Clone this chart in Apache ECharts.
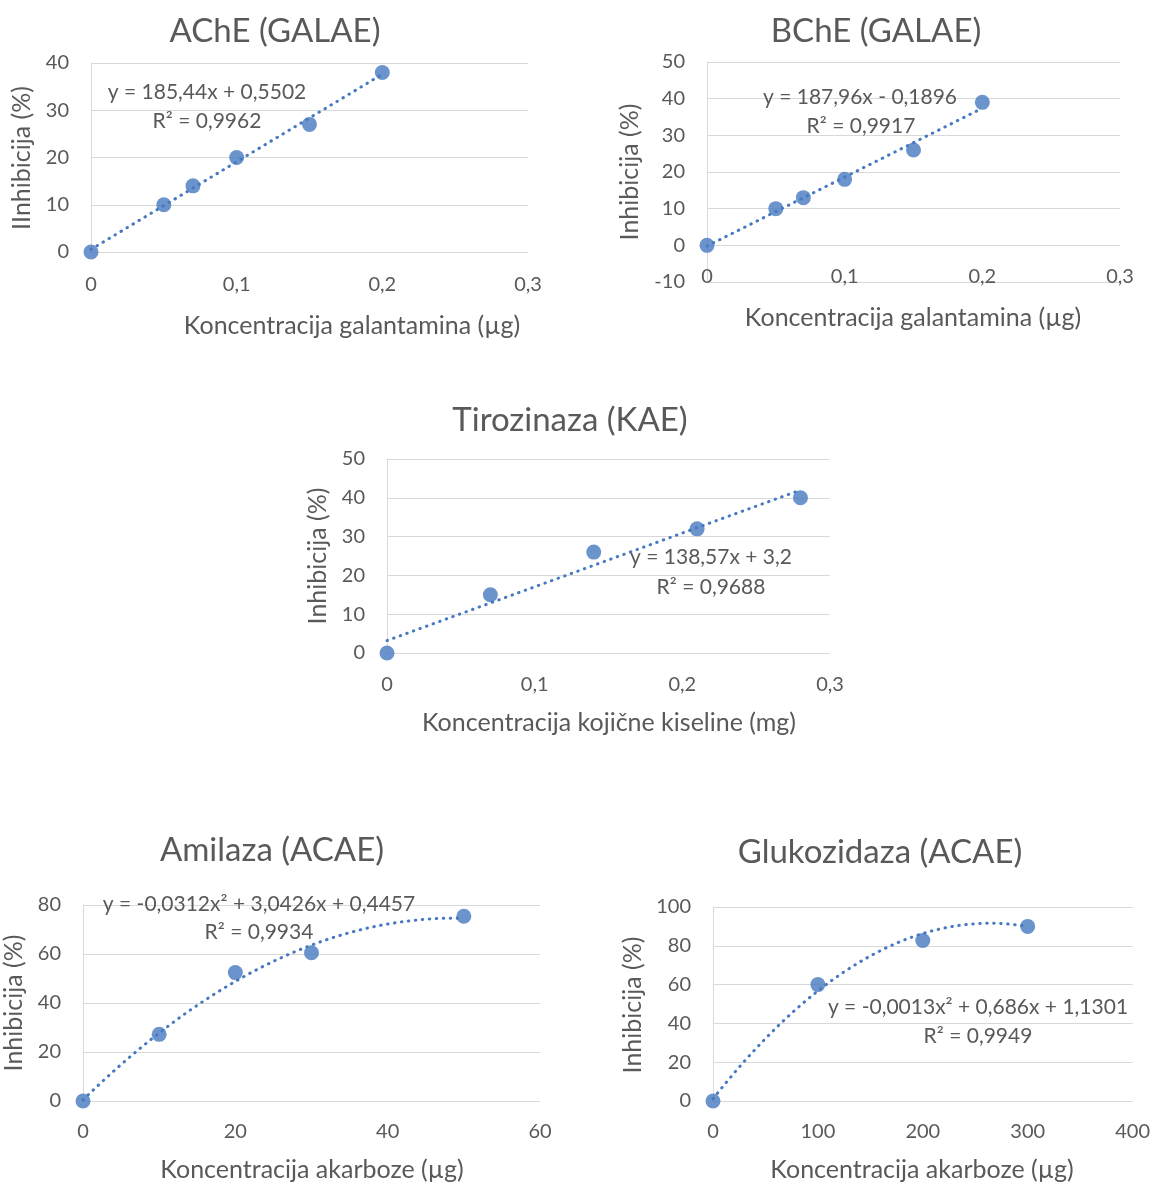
<!DOCTYPE html>
<html><head><meta charset="utf-8">
<script src="https://cdn.jsdelivr.net/npm/echarts@6/dist/echarts.min.js"></script>
<style>html,body{margin:0;padding:0;background:#fff}#c{width:1153px;height:1185px}</style>
</head><body><div id="c"></div>
<script>
// ---- data ----
const achX = [0, 0.05, 0.07, 0.1, 0.15, 0.2];
const achY = [0, 10, 14, 20, 27, 38];
const bchX = [0, 0.05, 0.07, 0.1, 0.15, 0.2];
const bchY = [0, 10, 13, 18, 26, 39];
const tirX = [0, 0.07, 0.14, 0.21, 0.28];
const tirY = [0, 15, 26, 32, 40];
const amiX = [0, 10, 20, 30, 50];
const amiY = [0, 27.2, 52.4, 60.5, 75.4];
const gluX = [0, 100, 200, 300];
const gluY = [0, 60, 82.7, 90];
// trendline coefficients [a, b, c] for a*x^2 + b*x + c (from the shown equations)
const achTrend = [0, 185.44, 0.5502];
const bchTrend = [0, 187.96, -0.1896];
const tirTrend = [0, 138.57, 3.2];
const amiTrend = [-0.0312, 3.0426, 0.4457];
const gluTrend = [-0.0013, 0.686, 1.1301];
// axis ranges [min, max, interval]
const achXAxis = [0, 0.3, 0.1], achYAxis = [0, 40, 10];
const bchXAxis = [0, 0.3, 0.1], bchYAxis = [-10, 50, 10];
const tirXAxis = [0, 0.3, 0.1], tirYAxis = [0, 50, 10];
const amiXAxis = [0, 60, 20], amiYAxis = [0, 80, 20];
const gluXAxis = [0, 400, 100], gluYAxis = [0, 100, 20];
// texts
const titles = ['AChE (GALAE)', 'BChE (GALAE)', 'Tirozinaza (KAE)', 'Amilaza (ACAE)', 'Glukozidaza (ACAE)'];
const xTitles = ['Koncentracija galantamina (µg)', 'Koncentracija galantamina (µg)', 'Koncentracija kojične kiseline (mg)', 'Koncentracija akarboze (µg)', 'Koncentracija akarboze (µg)'];
const yTitles = ['IInhibicija (%)', 'Inhibicija (%)', 'Inhibicija (%)', 'Inhibicija (%)', 'Inhibicija (%)'];
const eqs = ['y = 185,44x + 0,5502', 'y = 187,96x - 0,1896', 'y = 138,57x + 3,2', 'y = -0,0312x² + 3,0426x + 0,4457', 'y = -0,0013x² + 0,686x + 1,1301'];
const r2s = ['R² = 0,9962', 'R² = 0,9917', 'R² = 0,9688', 'R² = 0,9934', 'R² = 0,9949'];

// ---- layout ----
const FONT = 'Lato';
const TXT = '#595959';
const GRID = '#D9D9D9';
const BLUE = '#4679C1';
const grids = [
  {left: 91, top: 63, width: 437, height: 189},
  {left: 707, top: 62, width: 413, height: 220},
  {left: 387, top: 459, width: 443, height: 194},
  {left: 83, top: 905, width: 457, height: 196},
  {left: 713, top: 907, width: 420, height: 194}
];
const titlePos = [[275, 31], [876, 31], [570, 420], [272, 850], [880, 852]];
const xTitlePos = [[352, 326], [913, 318], [609, 723], [312, 1170], [922, 1170]];
const yTitlePos = [[22, 158], [630, 172], [318, 556], [14, 1003], [633, 1005]];
const eqPos = [[207, 92], [860, 97], [711, 557], [259, 904], [978, 1007]];
const r2Pos = [[207, 121], [861, 126], [711, 587], [259, 932], [978, 1036]];
const xLabelMargin = [23, -15, 22, 21, 21];

const sets = [
  [achX, achY, achTrend, achXAxis, achYAxis],
  [bchX, bchY, bchTrend, bchXAxis, bchYAxis],
  [tirX, tirY, tirTrend, tirXAxis, tirYAxis],
  [amiX, amiY, amiTrend, amiXAxis, amiYAxis],
  [gluX, gluY, gluTrend, gluXAxis, gluYAxis]
];

function fmt(v) { return String(+(+v).toFixed(3)).replace('.', ','); }
function trendPts(xs, c) {
  const x0 = xs[0], x1 = xs[xs.length - 1];
  const n = (c[0] === 0) ? 1 : 60;
  const pts = [];
  for (let i = 0; i <= n; i++) {
    const x = x0 + (x1 - x0) * i / n;
    pts.push([x, c[0] * x * x + c[1] * x + c[2]]);
  }
  return pts;
}

const xAxes = [], yAxes = [], series = [], graphics = [];
sets.forEach((s, i) => {
  const [xs, ys, tr, xa, ya] = s;
  xAxes.push({
    type: 'value', gridIndex: i, min: xa[0], max: xa[1], interval: xa[2],
    axisLine: {show: false, onZero: false}, axisTick: {show: false}, splitLine: {show: false},
    axisLabel: {color: TXT, fontFamily: FONT, fontSize: 20, margin: xLabelMargin[i], formatter: fmt, showMaxLabel: true, showMinLabel: true}
  });
  yAxes.push({
    type: 'value', gridIndex: i, min: ya[0], max: ya[1], interval: ya[2],
    axisLine: {show: true, onZero: false, lineStyle: {color: GRID, width: 1}}, axisTick: {show: false},
    splitLine: {show: true, lineStyle: {color: GRID, width: 1}},
    axisLabel: {color: TXT, fontFamily: FONT, fontSize: 20, margin: 22, formatter: fmt}
  });
  series.push({
    type: 'line', xAxisIndex: i, yAxisIndex: i, data: trendPts(xs, tr), showSymbol: false, symbol: 'none',
    lineStyle: {color: BLUE, width: 3, type: [0.5, 6.5], cap: 'round'}, silent: true, z: 2
  });
  series.push({
    type: 'scatter', xAxisIndex: i, yAxisIndex: i, data: xs.map((x, k) => [x, ys[k]]),
    symbol: 'circle', symbolSize: 15, itemStyle: {color: BLUE}, z: 3
  });
  graphics.push({type: 'text', x: titlePos[i][0], y: titlePos[i][1], style: {text: titles[i], fill: TXT, font: '33px ' + FONT, textAlign: 'center', textVerticalAlign: 'middle'}});
  graphics.push({type: 'text', x: xTitlePos[i][0], y: xTitlePos[i][1], style: {text: xTitles[i], fill: TXT, font: '25px ' + FONT, textAlign: 'center', textVerticalAlign: 'middle'}});
  graphics.push({type: 'text', x: yTitlePos[i][0], y: yTitlePos[i][1], rotation: Math.PI / 2, style: {text: yTitles[i], fill: TXT, font: '25px ' + FONT, textAlign: 'center', textVerticalAlign: 'middle'}});
  graphics.push({type: 'text', x: eqPos[i][0], y: eqPos[i][1], z: 10, style: {text: eqs[i], fill: TXT, font: '21px ' + FONT, textAlign: 'center', textVerticalAlign: 'middle'}});
  graphics.push({type: 'text', x: r2Pos[i][0], y: r2Pos[i][1], z: 10, style: {text: r2s[i], fill: TXT, font: '21px ' + FONT, textAlign: 'center', textVerticalAlign: 'middle'}});
});

const chart = echarts.init(document.getElementById('c'), null, {renderer: 'canvas'});
chart.setOption({
  animation: false,
  backgroundColor: '#fff',
  grid: grids.map(g => Object.assign({containLabel: false}, g)),
  xAxis: xAxes, yAxis: yAxes, series: series, graphic: graphics
});
</script></body></html>
